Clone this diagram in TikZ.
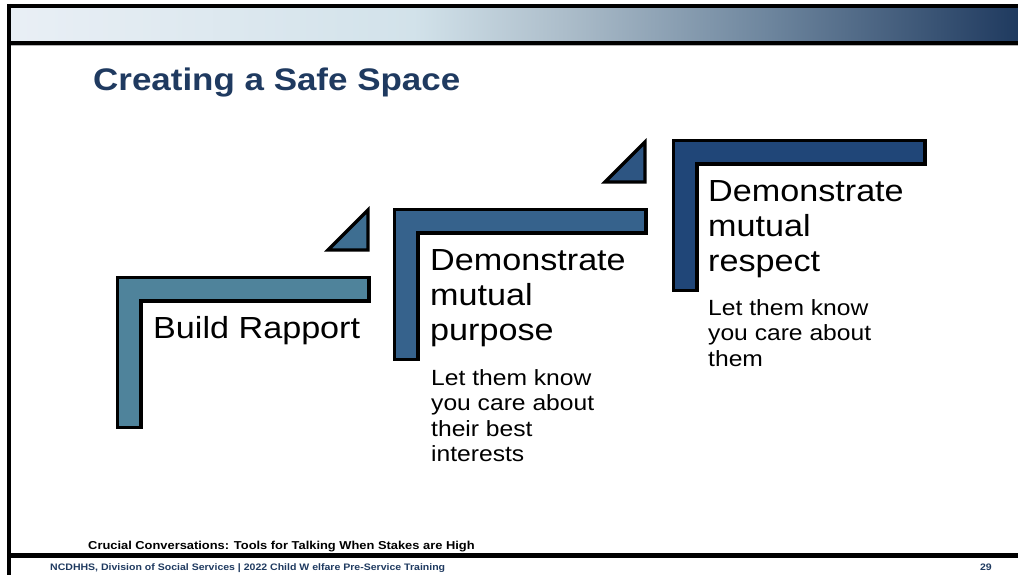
\documentclass[tikz,border=0pt]{standalone}
\usepackage{fontspec}
\setmainfont{Liberation Sans}[FakeStretch=1.12]

\definecolor{navy}{RGB}{31,58,96}
\definecolor{stepone}{RGB}{79,131,155}
\definecolor{steptwo}{RGB}{54,98,140}
\definecolor{stepthree}{RGB}{32,70,120}
\definecolor{wedgeone}{RGB}{62,110,145}
\definecolor{wedgetwo}{RGB}{45,85,130}
\definecolor{bannerA}{RGB}{233,239,245}
\definecolor{bannerB}{RGB}{210,226,234}
\definecolor{bannerC}{RGB}{172,189,202}
\definecolor{bannerD}{RGB}{110,134,158}
\definecolor{bannerE}{RGB}{31,58,95}

\pgfdeclarehorizontalshading{banner}{100bp}{color(0bp)=(bannerA); color(25bp)=(bannerA);
  color(45bp)=(bannerB); color(52.5bp)=(bannerC); color(62.5bp)=(bannerD);
  color(75bp)=(bannerE); color(100bp)=(bannerE)}

\begin{document}
\begin{tikzpicture}[x=1pt, y=-1pt, line join=miter,
    stair/.style={draw=black, line width=3.3pt},
    wedge/.style={draw=black, line width=3.3pt},
    big/.style={anchor=base west, inner sep=0pt, align=left,
        font=\fontsize{30.5}{35}\selectfont},
    small/.style={anchor=base west, inner sep=0pt, align=left,
        font=\fontsize{22}{25.5}\selectfont}]

    \useasboundingbox (0,0) rectangle (1018,575);

    % the shaded banner on top
    \shade[shading=banner] (11,6) rectangle (1018,43);
    \draw[line width=4pt] (7,6) -- (1018,6);
    \draw[line width=4pt] (7,43) -- (1018,43);
    \draw[black!30, line width=1pt] (11,45.5) -- (1018,45.5);
    % the frame on the left and at the bottom
    \draw[line width=4pt] (9,4) -- (9,575);
    \draw[line width=5pt] (7,555.5) -- (1018,555.5);

    % The title
    \node[anchor=base west, inner sep=0pt, text=navy,
        font=\bfseries\fontsize{31.2}{31}\selectfont] (title) at (93,91)
        {Creating a Safe Space};

    % the three steps
    \foreach \x/\y/\col in {117.5/277.5/stepone, 394.5/209.5/steptwo, 673.5/140.5/stepthree}
    \draw[stair, fill=\col] (\x,\y) -- ++(251.5,0) -- ++(0,23.5) -- ++(-228,0)
        -- ++(0,126.5) -- ++(-23.5,0) -- cycle;

    % the small triangles above step 1 and step 2
    \foreach \x/\y/\col in {368/277.5/wedgeone, 645/209.5/wedgetwo}
    \draw[wedge, fill=\col] (\x,\y-27.5) -- ++(0,-40) -- ++(-40,40) -- cycle;

    % The labels in the steps (base = baseline of the last line)
    \node[big] (rapport) at (153,338) {Build Rapport};
    \node[big] (purpose) at (430,340) {Demonstrate\\mutual\\purpose};
    \node[small] (purposenote) at (431,461.5)
        {Let them know\\you care about\\their best\\interests};
    \node[big] (respect) at (708,271) {Demonstrate\\mutual\\respect};
    \node[small] (respectnote) at (708,366) {Let them know\\you care about\\them};

    % The footer
    \node[anchor=base west, inner sep=0pt,
        font=\bfseries\fontsize{11.5}{12}\selectfont] (source) at (88,549)
        {Crucial Conversations: Tools for Talking When Stakes are High};
    \node[anchor=base west, inner sep=0pt, text=navy,
        font=\bfseries\fontsize{9.4}{10}\selectfont] (credits) at (50,570.5)
        {NCDHHS, Division of Social Services | 2022 Child W elfare Pre-Service Training};
    \node[anchor=base east, inner sep=0pt, text=navy,
        font=\bfseries\fontsize{9.4}{10}\selectfont] (page) at (992,570.5) {29};
\end{tikzpicture}
\end{document}
